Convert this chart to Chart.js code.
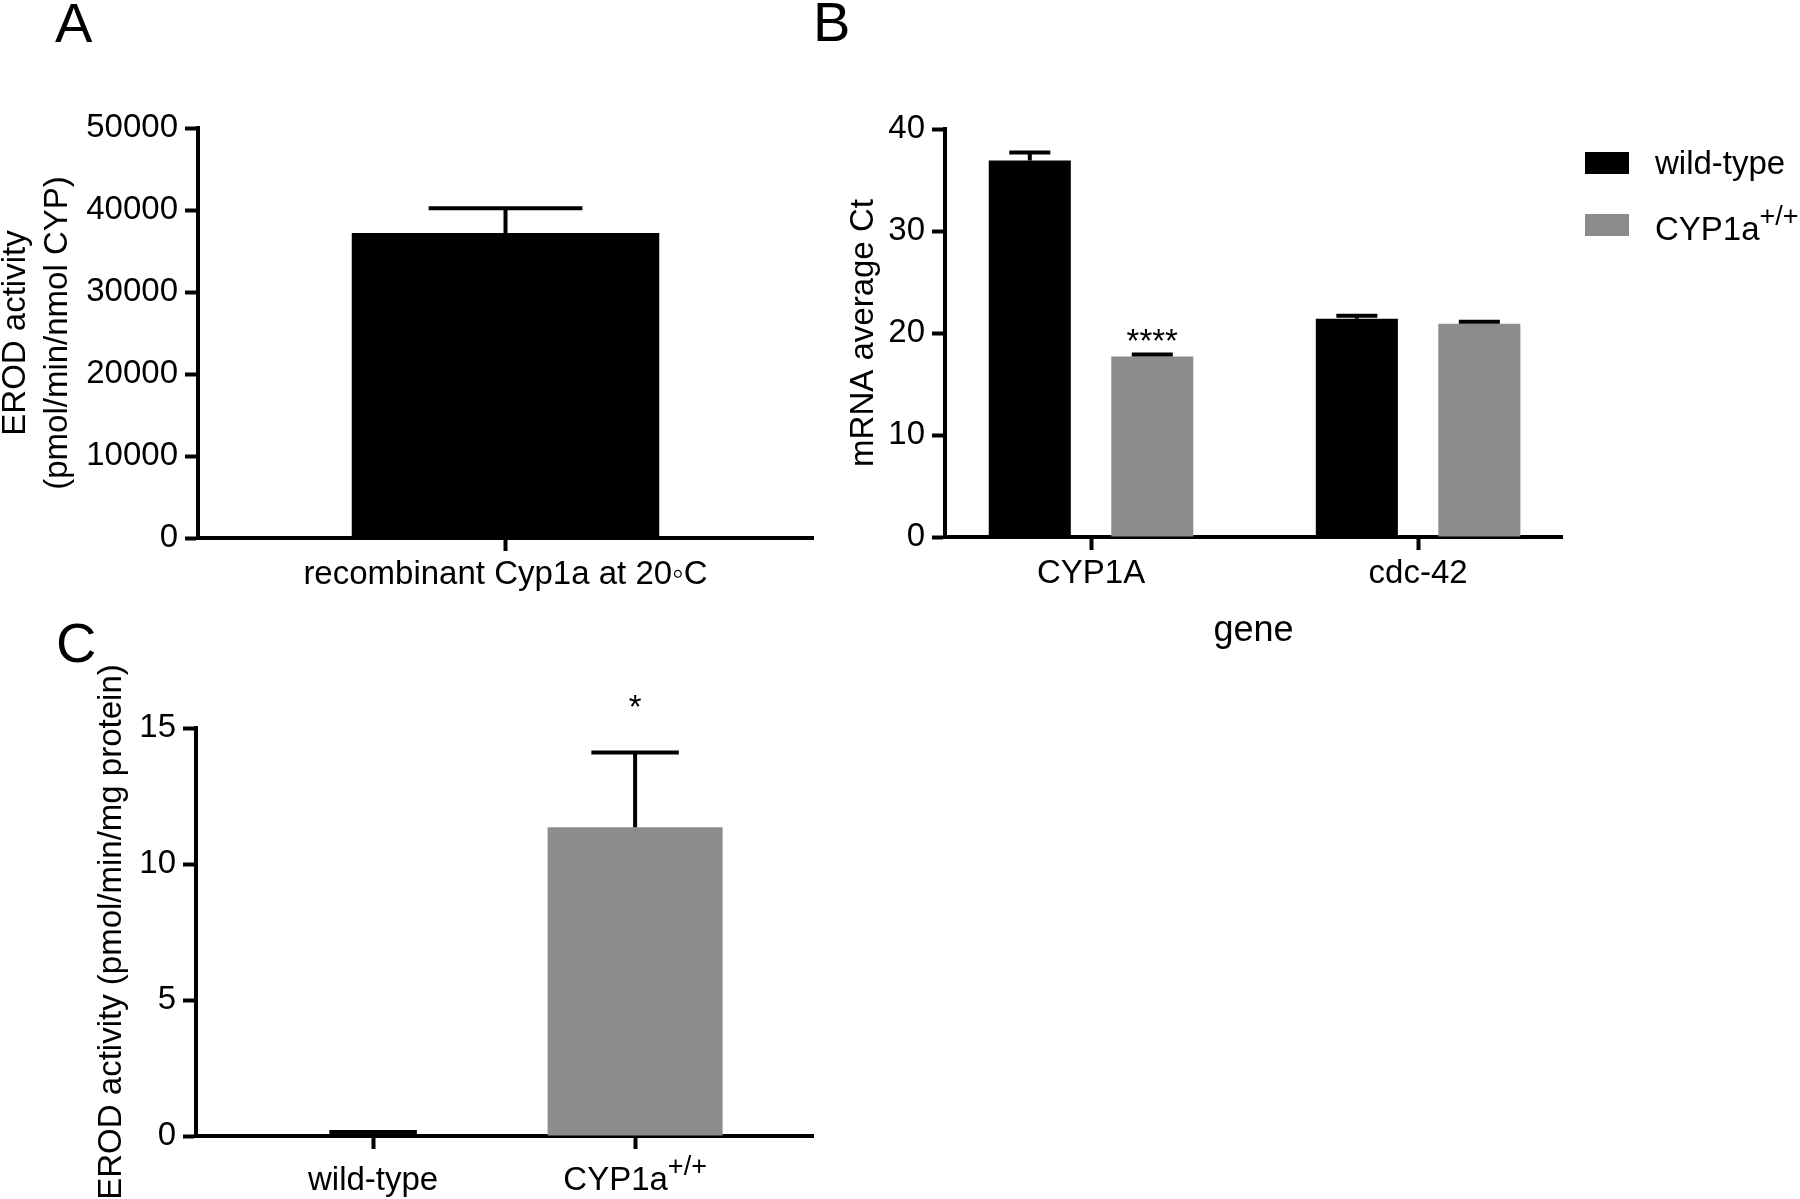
<!DOCTYPE html>
<html>
<head>
<meta charset="utf-8">
<script src="https://cdn.jsdelivr.net/npm/chart.js@4.4.0/dist/chart.umd.min.js"></script>
<style>
  body { margin: 0; background: #fff; width: 1800px; height: 1199px; position: relative; overflow: hidden; }
  canvas { position: absolute; }
</style>
</head>
<body>
<canvas id="graficoA" style="left:0;top:0" width="840" height="640"></canvas>
<canvas id="graficoB" style="left:800px;top:0" width="1000" height="680"></canvas>
<canvas id="graficoC" style="left:0;top:620px" width="820" height="579"></canvas>
<script>
const fuente = "'Liberation Sans', Arial, sans-serif";
Chart.defaults.font.family = fuente;
Chart.defaults.color = '#000';

const negro = '#000000';
const gris = '#8c8c8c';

// A: actividad EROD de la enzima recombinante
const categoriasA = ['recombinant Cyp1a at 20◦C'];
const actividadA = [37200];
const errorA = [3000];

// B: Ct promedio por gen
const categoriasB = ['CYP1A', 'cdc-42'];
const ctWildType = [36.9, 21.4];
const errWildType = [0.8, 0.3];
const ctCyp = [17.7, 20.9];
const errCyp = [0.2, 0.2];
const marcasCyp = ['****', ''];
const alturaMarcasCyp = [20.0, null];

// C: actividad EROD en peces
const categoriasC = ['wild-type', 'CYP1a^+/+'];
const actividadC = [0.05, 11.35];
const errorC = [0.1, 2.75];
const marcasC = ['', '*'];
const alturaMarcasC = [null, 16.07];
const coloresC = [negro, gris];

// texto con superindice marcado con ^
function dibujarConSup(ctx, texto, x, y, tam, alinear) {
  const partes = texto.split('^');
  const tamSup = Math.round(tam * 0.82);
  ctx.font = tam + 'px ' + fuente;
  const anchoBase = ctx.measureText(partes[0]).width;
  let anchoSup = 0;
  if (partes[1]) {
    ctx.font = tamSup + 'px ' + fuente;
    anchoSup = ctx.measureText(partes[1]).width;
  }
  let x0 = alinear === 'center' ? x - (anchoBase + anchoSup) / 2 : x;
  ctx.textAlign = 'left';
  ctx.textBaseline = 'alphabetic';
  ctx.font = tam + 'px ' + fuente;
  ctx.fillText(partes[0], x0, y);
  if (partes[1]) {
    ctx.font = tamSup + 'px ' + fuente;
    ctx.fillText(partes[1], x0 + anchoBase, y - tam * 0.45);
  }
}

const barrasError = {
  id: 'barrasError',
  afterDatasetsDraw(chart) {
    const ctx = chart.ctx;
    const escalaY = chart.scales.y;
    chart.data.datasets.forEach((ds, i) => {
      const meta = chart.getDatasetMeta(i);
      meta.data.forEach((barra, j) => {
        const valor = ds.data[j].y;
        const arriba = escalaY.getPixelForValue(valor + ds.errores[j]);
        const mitad = barra.width / 4;
        ctx.save();
        ctx.strokeStyle = '#000';
        ctx.lineWidth = 4;
        ctx.beginPath();
        ctx.moveTo(barra.x, barra.y);
        ctx.lineTo(barra.x, arriba);
        ctx.moveTo(barra.x - mitad, arriba);
        ctx.lineTo(barra.x + mitad, arriba);
        ctx.stroke();
        // asteriscos de significancia
        if (ds.marcas && ds.marcas[j]) {
          ctx.fillStyle = '#000';
          ctx.font = '33px ' + fuente;
          ctx.textAlign = 'center';
          ctx.textBaseline = 'alphabetic';
          ctx.fillText(ds.marcas[j], barra.x, escalaY.getPixelForValue(ds.alturaMarcas[j]) + 19);
        }
        ctx.restore();
      });
    });
  }
};

const extras = {
  id: 'extras',
  afterDraw(chart, args, opts) {
    const ctx = chart.ctx;
    ctx.save();
    ctx.fillStyle = '#000';
    ctx.font = '56px ' + fuente;
    ctx.textAlign = 'left';
    ctx.textBaseline = 'alphabetic';
    ctx.fillText(opts.letra, opts.letraX, opts.letraY);
    if (opts.etiquetasSup) {
      const escalaX = chart.scales.x;
      opts.etiquetasSup.forEach((t, i) => {
        dibujarConSup(ctx, t, escalaX.getPixelForValue(i), chart.chartArea.bottom + 54, 33, 'center');
      });
    }
    if (opts.leyenda) {
      chart.data.datasets.forEach((ds, i) => {
        const y = opts.leyendaY + i * 62;
        ctx.fillStyle = ds.backgroundColor;
        ctx.fillRect(opts.leyendaX, y, 44, 22);
        ctx.fillStyle = '#000';
        dibujarConSup(ctx, ds.label, opts.leyendaX + 70, y + 22 + (i ? 4 : 0), 33, 'left');
      });
    }
    ctx.restore();
  }
};

function ejeY(max, paso, titulo, padTitulo, altoLinea, ancho) {
  return {
    min: 0,
    max: max,
    ticks: { stepSize: paso, font: { size: 33 }, color: '#000', padding: 7, callback: v => String(v) },
    grid: { drawOnChartArea: false, drawTicks: true, tickLength: 13, tickWidth: 4, tickColor: '#000' },
    border: { display: true, color: '#000', width: 4 },
    title: { display: true, text: titulo, color: '#000', font: { size: 33, lineHeight: altoLinea }, padding: { top: padTitulo, bottom: 0 } },
    afterFit: s => { s.width = ancho; }
  };
}

function ejeX(categorias, min, max, alto, mostrarEtiquetas) {
  return {
    type: 'linear',
    min: min,
    max: max,
    offset: false,
    bounds: 'data',
    afterBuildTicks: s => { s.ticks = categorias.map((c, i) => ({ value: i })); },
    ticks: { display: mostrarEtiquetas, font: { size: 33 }, color: '#000', padding: 4, maxRotation: 0, autoSkip: false, callback: v => categorias[v] },
    grid: { offset: false, drawOnChartArea: false, drawTicks: true, tickLength: 13, tickWidth: 4, tickColor: '#000' },
    border: { display: true, color: '#000', width: 4 },
    afterFit: s => { s.height = alto; }
  };
}

const base = {
  responsive: false,
  animation: false,
  plugins: { legend: { display: false }, tooltip: { enabled: false } }
};

new Chart(document.getElementById('graficoA'), {
  type: 'bar',
  data: {
    datasets: [{
      label: 'EROD',
      data: categoriasA.map((c, i) => ({ x: i, y: actividadA[i] })),
      backgroundColor: negro,
      errores: errorA,
      categoryPercentage: 1,
      barPercentage: 0.5
    }]
  },
  options: {
    ...base,
    layout: { padding: { top: 128, right: 27, left: 0, bottom: 0 } },
    scales: {
      x: ejeX(categoriasA, -0.5, 0.5, 102, true),
      y: ejeY(50000, 10000, ['EROD activity', '(pmol/min/nmol CYP)'], -6, 1.3, 198)
    },
    plugins: { ...base.plugins, extras: { letra: 'A', letraX: 55, letraY: 42 } }
  },
  plugins: [barrasError, extras]
});

new Chart(document.getElementById('graficoB'), {
  type: 'bar',
  data: {
    datasets: [{
      label: 'wild-type',
      data: categoriasB.map((c, i) => ({ x: i, y: ctWildType[i] })),
      backgroundColor: negro,
      errores: errWildType,
      categoryPercentage: 0.749,
      barPercentage: 0.67
    }, {
      label: 'CYP1a^+/+',
      data: categoriasB.map((c, i) => ({ x: i, y: ctCyp[i] })),
      backgroundColor: gris,
      errores: errCyp,
      marcas: marcasCyp,
      alturaMarcas: alturaMarcasCyp,
      categoryPercentage: 0.749,
      barPercentage: 0.67
    }]
  },
  options: {
    ...base,
    layout: { padding: { top: 129, right: 238, left: 0, bottom: 0 } },
    scales: {
      x: {
        ...ejeX(categoriasB, -0.4465, 1.44, 143, true),
        title: { display: true, text: 'gene', color: '#000', font: { size: 36 }, padding: { top: 0, bottom: 27 } }
      },
      y: ejeY(40, 10, 'mRNA average Ct', 44, 1.2, 145)
    },
    plugins: { ...base.plugins, extras: { letra: 'B', letraX: 13, letraY: 41, leyenda: true, leyendaX: 785, leyendaY: 152 } }
  },
  plugins: [barrasError, extras]
});

new Chart(document.getElementById('graficoC'), {
  type: 'bar',
  data: {
    datasets: [{
      label: 'EROD',
      data: categoriasC.map((c, i) => ({ x: i, y: actividadC[i] })),
      backgroundColor: coloresC,
      errores: errorC,
      marcas: marcasC,
      alturaMarcas: alturaMarcasC,
      categoryPercentage: 1,
      barPercentage: 0.668
    }]
  },
  options: {
    ...base,
    layout: { padding: { top: 108, right: 7, left: 0, bottom: 0 } },
    scales: {
      x: ejeX(categoriasC, -0.676, 1.679, 63, false),
      y: ejeY(15, 5, 'EROD activity (pmol/min/mg protein)', 92, 1.2, 196)
    },
    plugins: { ...base.plugins, extras: { letra: 'C', letraX: 56, letraY: 42, etiquetasSup: categoriasC } }
  },
  plugins: [barrasError, extras]
});
</script>
</body>
</html>
